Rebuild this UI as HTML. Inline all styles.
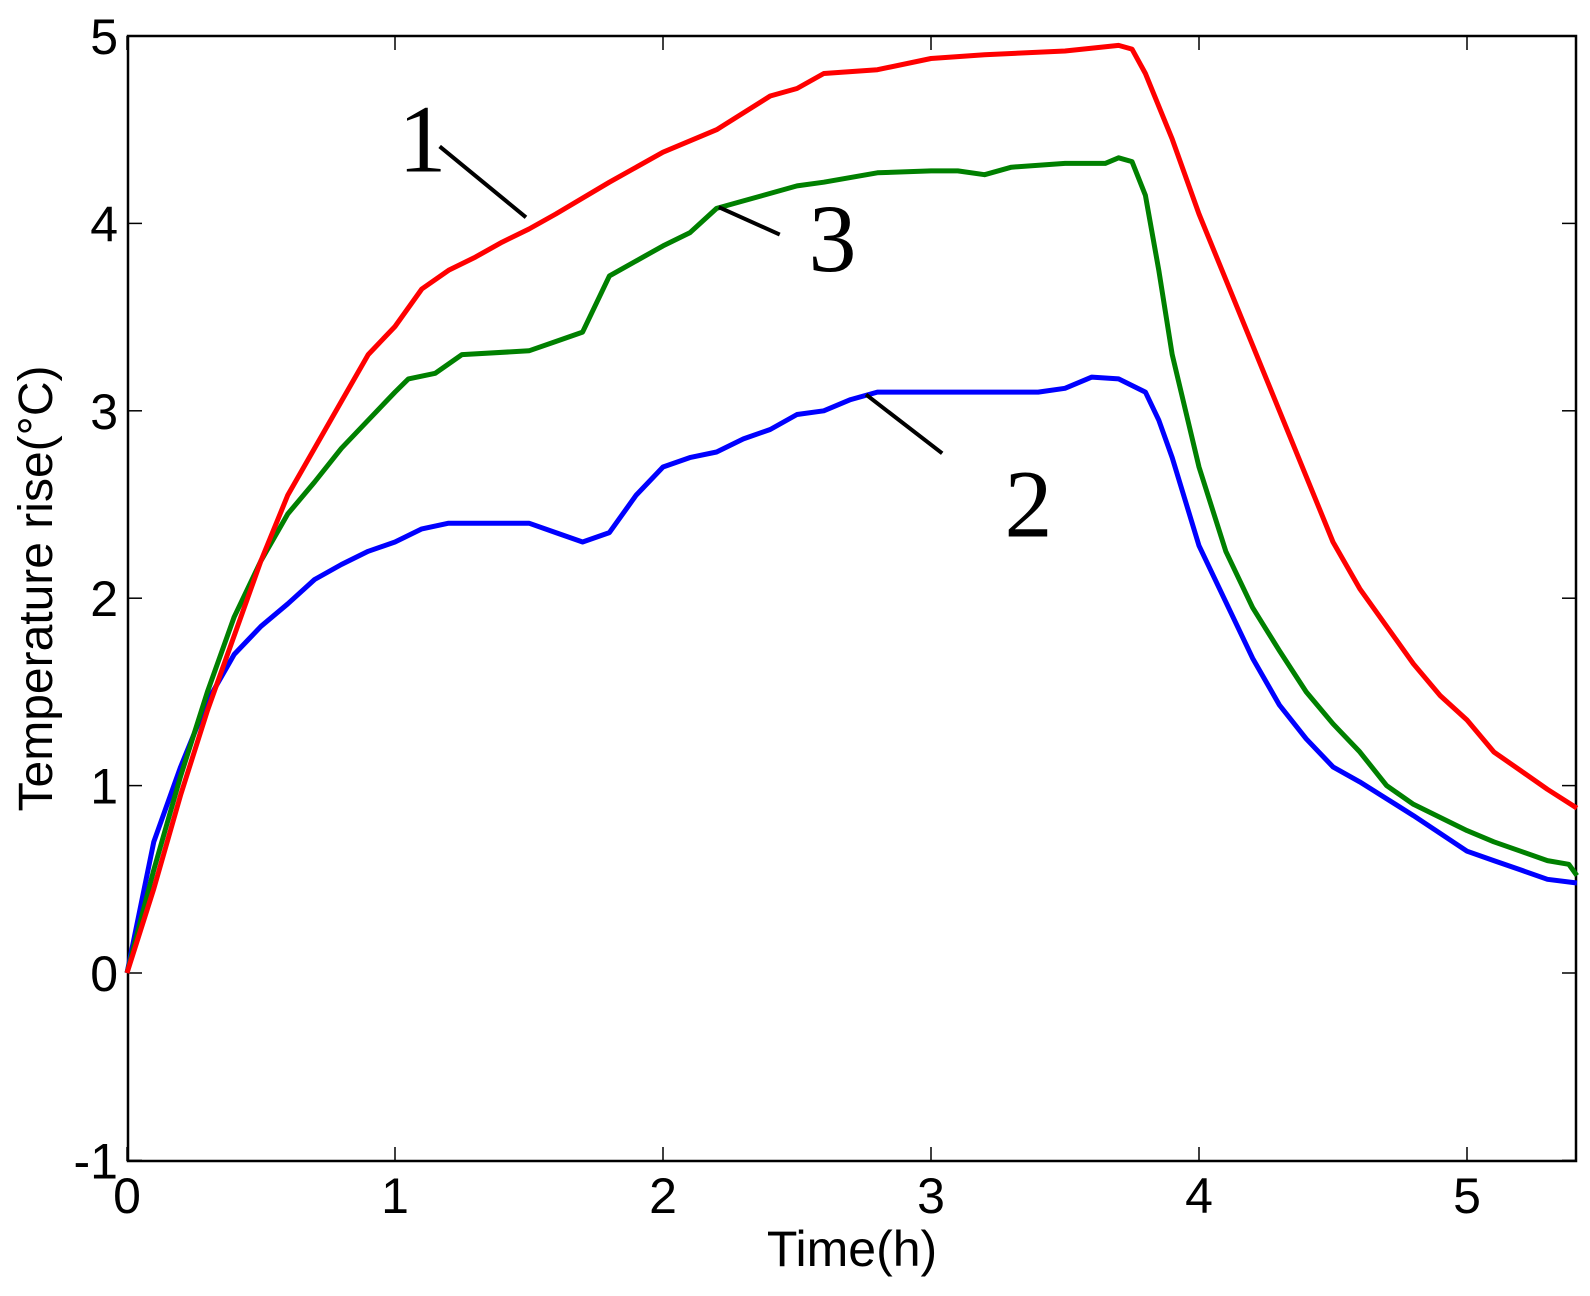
<!DOCTYPE html>
<html><head><meta charset="utf-8"><style>
html,body{margin:0;padding:0;background:#fff;}
svg{display:block;}
text{font-family:"Liberation Sans",sans-serif;}
</style></head><body>
<svg id="s" width="1590" height="1296" xmlns="http://www.w3.org/2000/svg"></svg>
<script>
const s=document.getElementById('s');
const X0=127,XU=268,Y0=973,YU=187.4,L=128,R=1576,T=36,B=1161;
const px=t=>X0+t*XU, py=v=>Y0-v*YU;
const cv=(xv,yv)=>[127+(xv-127)*268/264, 36+(yv-36)*187.4/185];
let h='';
h+=`<rect x="${L}" y="${T}" width="${R-L}" height="${B-T}" fill="none" stroke="#000" stroke-width="2.5"/>`;
for(let i=0;i<=5;i++){const x=px(i);h+=`<line x1="${x}" y1="${B}" x2="${x}" y2="${B-14}" stroke="#000" stroke-width="1.5"/><line x1="${x}" y1="${T}" x2="${x}" y2="${T+14}" stroke="#000" stroke-width="1.5"/><text x="${x}" y="${B+52}" font-size="50" text-anchor="middle">${i}</text>`;}
for(let v=-1;v<=5;v++){const y=py(v);h+=`<line x1="${L}" y1="${y}" x2="${L+14}" y2="${y}" stroke="#000" stroke-width="1.5"/><line x1="${R}" y1="${y}" x2="${R-14}" y2="${y}" stroke="#000" stroke-width="1.5"/><text x="${L-10}" y="${y+18}" font-size="50" text-anchor="end">${v<0?'-1':v}</text>`;}
h+=`<text x="${(L+R)/2}" y="1266" font-size="50" text-anchor="middle">Time(h)</text>`;
h+=`<text transform="translate(52,${(T+B)/2-10}) rotate(-90)" font-size="48" text-anchor="middle">Temperature rise(°C)</text>`;
const red=[0,0,0.1,0.45,0.2,0.95,0.3,1.4,0.4,1.8,0.5,2.2,0.6,2.55,0.7,2.8,0.8,3.05,0.9,3.3,1.0,3.45,1.1,3.65,1.2,3.75,1.3,3.82,1.4,3.9,1.5,3.97,1.6,4.05,1.8,4.22,2.0,4.38,2.2,4.5,2.4,4.68,2.5,4.72,2.6,4.8,2.8,4.82,3.0,4.88,3.2,4.9,3.5,4.92,3.7,4.95,3.75,4.93,3.8,4.8,3.9,4.45,4.0,4.05,4.1,3.7,4.2,3.35,4.3,3.0,4.4,2.65,4.5,2.3,4.6,2.05,4.7,1.85,4.8,1.65,4.9,1.48,5.0,1.35,5.1,1.18,5.2,1.08,5.3,0.98,5.41,0.88];
const green=[0,0,0.1,0.55,0.2,1.05,0.3,1.5,0.4,1.9,0.5,2.2,0.6,2.45,0.7,2.62,0.8,2.8,0.9,2.95,1.0,3.1,1.05,3.17,1.15,3.2,1.25,3.3,1.5,3.32,1.6,3.37,1.7,3.42,1.8,3.72,1.9,3.8,2.0,3.88,2.1,3.95,2.2,4.08,2.3,4.12,2.5,4.2,2.6,4.22,2.8,4.27,3.0,4.28,3.1,4.28,3.2,4.26,3.3,4.3,3.5,4.32,3.65,4.32,3.7,4.35,3.75,4.33,3.8,4.15,3.85,3.75,3.9,3.3,3.95,3.0,4.0,2.7,4.1,2.25,4.2,1.95,4.3,1.72,4.4,1.5,4.5,1.33,4.6,1.18,4.7,1.0,4.8,0.9,5.0,0.76,5.1,0.7,5.2,0.65,5.3,0.6,5.38,0.58,5.41,0.52];
const blue=[0,0,0.1,0.7,0.2,1.1,0.3,1.45,0.4,1.7,0.5,1.85,0.6,1.97,0.7,2.1,0.8,2.18,0.9,2.25,1.0,2.3,1.1,2.37,1.2,2.4,1.5,2.4,1.6,2.35,1.7,2.3,1.8,2.35,1.9,2.55,2.0,2.7,2.1,2.75,2.2,2.78,2.3,2.85,2.4,2.9,2.5,2.98,2.6,3.0,2.7,3.06,2.8,3.1,3.4,3.1,3.5,3.12,3.6,3.18,3.7,3.17,3.8,3.1,3.85,2.95,3.9,2.75,4.0,2.28,4.1,1.98,4.2,1.68,4.3,1.43,4.4,1.25,4.5,1.1,4.6,1.02,4.7,0.93,4.8,0.84,5.0,0.65,5.1,0.6,5.2,0.55,5.3,0.5,5.41,0.48];
function path(a,c){let d='';for(let i=0;i<a.length;i+=2)d+=(i?'L':'M')+px(a[i]).toFixed(1)+' '+py(a[i+1]).toFixed(1);return `<path d="${d}" fill="none" stroke="${c}" stroke-width="5" stroke-linejoin="round"/>`;}
h+=path(blue,'#0000ff')+path(green,'#008000')+path(red,'#ff0000');
function ln(a,b,c,d){const p=cv(a,b),q=cv(c,d);return `<line x1="${p[0]}" y1="${p[1]}" x2="${q[0]}" y2="${q[1]}" stroke="#000" stroke-width="4"/>`;}
function lb(t,x,y){const p=cv(x,y);return `<text x="${p[0]}" y="${p[1]}" font-size="96" text-anchor="middle" style="font-family:'Liberation Serif',serif">${t}</text>`;}
h+=ln(435,145,520,215)+ln(710,205,770,232)+ln(855,390,930,448);
h+=lb('1',418,170)+lb('3',822,268)+lb('2',1015,530);
s.innerHTML=h;
</script>
</body></html>
